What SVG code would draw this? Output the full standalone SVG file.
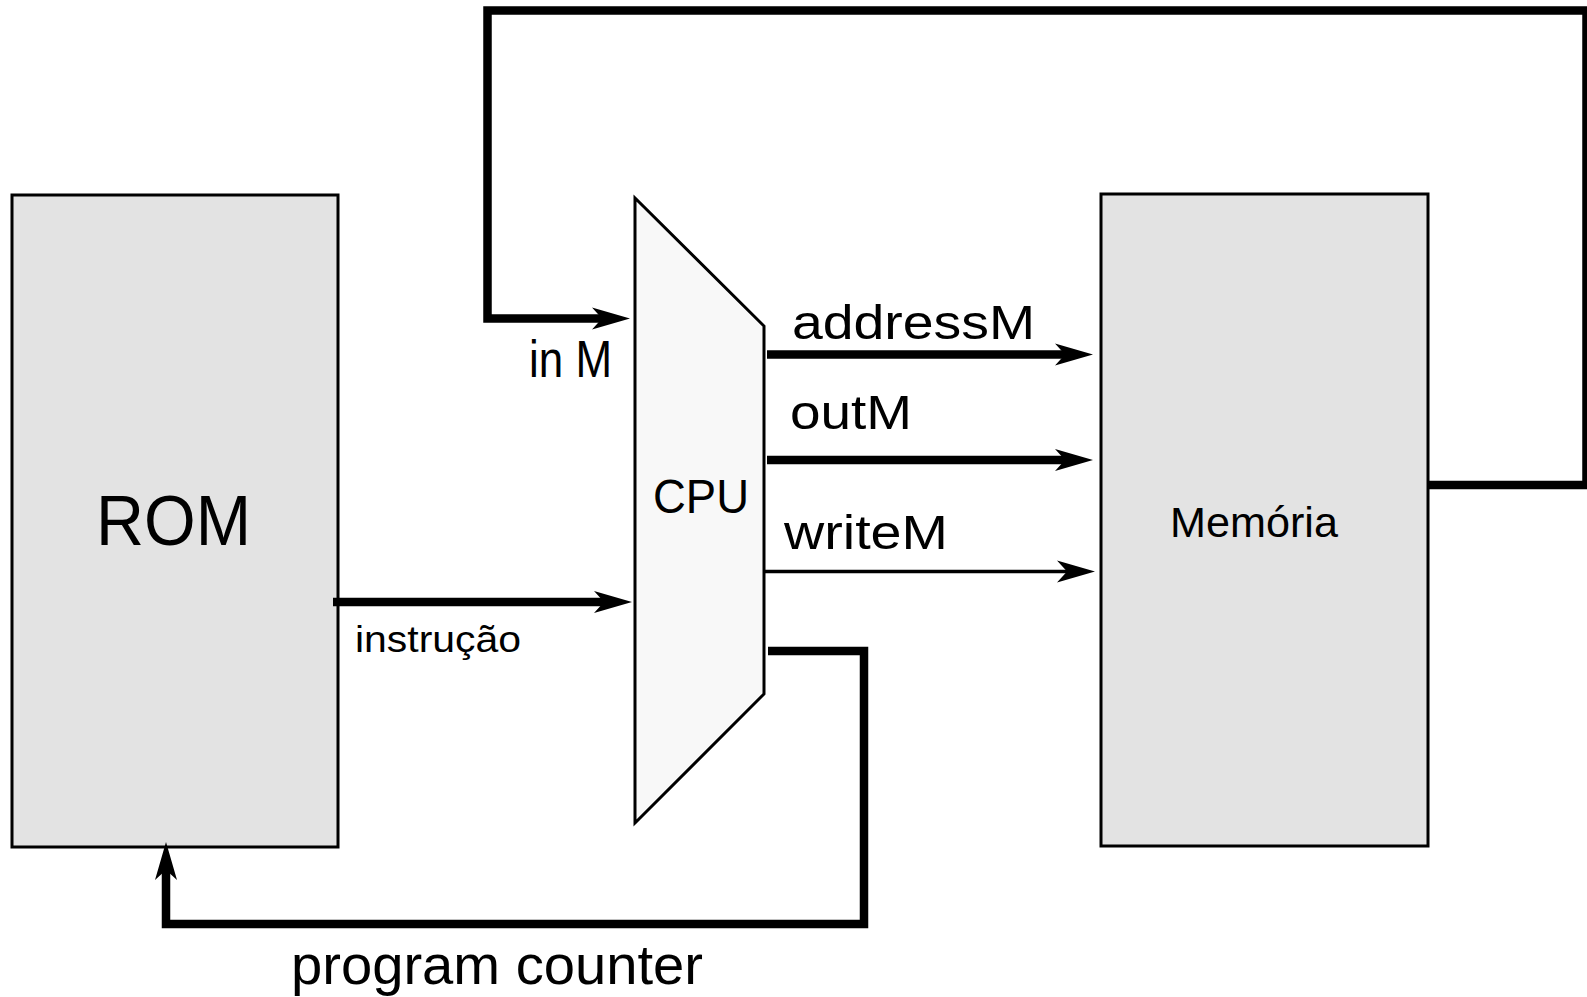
<svg xmlns="http://www.w3.org/2000/svg" width="1587" height="997" viewBox="0 0 1587 997">
  <style>
    .box { fill: #e3e3e3; stroke: #000; stroke-width: 3; }
    .cpu { fill: #f8f8f8; stroke: #000; stroke-width: 3; stroke-linejoin: miter; }
    .wire { fill: none; stroke: #000; stroke-width: 8.5; stroke-linejoin: miter; stroke-linecap: butt; }
    .thin { fill: none; stroke: #000; stroke-width: 3.5; }
    .lbl { font-family: "Liberation Sans", Arial, sans-serif; fill: #000; }
  </style>
  <defs>
    <!-- barbed arrowhead; the wire stops at the notch, the tip sits 28px further on -->
    <marker id="arrow" markerUnits="userSpaceOnUse" markerWidth="40" markerHeight="24" viewBox="-10 -12 40 24" refX="0" refY="0" orient="auto" overflow="visible">
      <path d="M28 0 L-10 -11 L0 0 L-10 11 Z" fill="#000"/>
    </marker>
  </defs>

  <g id="rom">
    <rect class="box" x="12" y="195" width="326" height="652"/>
    <text class="lbl" x="96" y="545" font-size="70" textLength="155" lengthAdjust="spacingAndGlyphs">ROM</text>
  </g>

  <g id="cpu">
    <polygon class="cpu" points="635,198 764,326 764,694 635,823"/>
    <text class="lbl" x="653" y="513" font-size="49" textLength="96" lengthAdjust="spacingAndGlyphs">CPU</text>
  </g>

  <g id="memoria">
    <rect class="box" x="1101" y="194" width="327" height="652"/>
    <text class="lbl" x="1170" y="537" font-size="43" textLength="168" lengthAdjust="spacingAndGlyphs">Memória</text>
  </g>

  <g id="connectors">
    <!-- data read back from memory into the CPU -->
    <path class="wire" d="M1428 485 H1586.5 V10.5 H487.5 V318.5 H602" marker-end="url(#arrow)"/>
    <!-- CPU outputs to memory -->
    <path class="wire" d="M767 354.5 H1065" marker-end="url(#arrow)"/>
    <path class="wire" d="M767 460 H1065" marker-end="url(#arrow)"/>
    <path class="thin" d="M765 571.5 H1067" marker-end="url(#arrow)"/>
    <!-- instruction fetch from ROM -->
    <path class="wire" d="M333 602 H604" marker-end="url(#arrow)"/>
    <!-- program counter back to ROM -->
    <path class="wire" d="M768 651 H864 V924 H166 V870" marker-end="url(#arrow)"/>
  </g>

  <g id="labels">
    <text class="lbl" x="529" y="377" font-size="52" textLength="83" lengthAdjust="spacingAndGlyphs">in M</text>
    <text class="lbl" x="792" y="339" font-size="48" textLength="243" lengthAdjust="spacingAndGlyphs">addressM</text>
    <text class="lbl" x="790" y="429" font-size="48" textLength="122" lengthAdjust="spacingAndGlyphs">outM</text>
    <text class="lbl" x="784" y="549" font-size="48" textLength="164" lengthAdjust="spacingAndGlyphs">writeM</text>
    <text class="lbl" x="355" y="652" font-size="36" textLength="166" lengthAdjust="spacingAndGlyphs">instrução</text>
    <text class="lbl" x="291" y="984" font-size="56" textLength="412" lengthAdjust="spacingAndGlyphs">program counter</text>
  </g>
</svg>
